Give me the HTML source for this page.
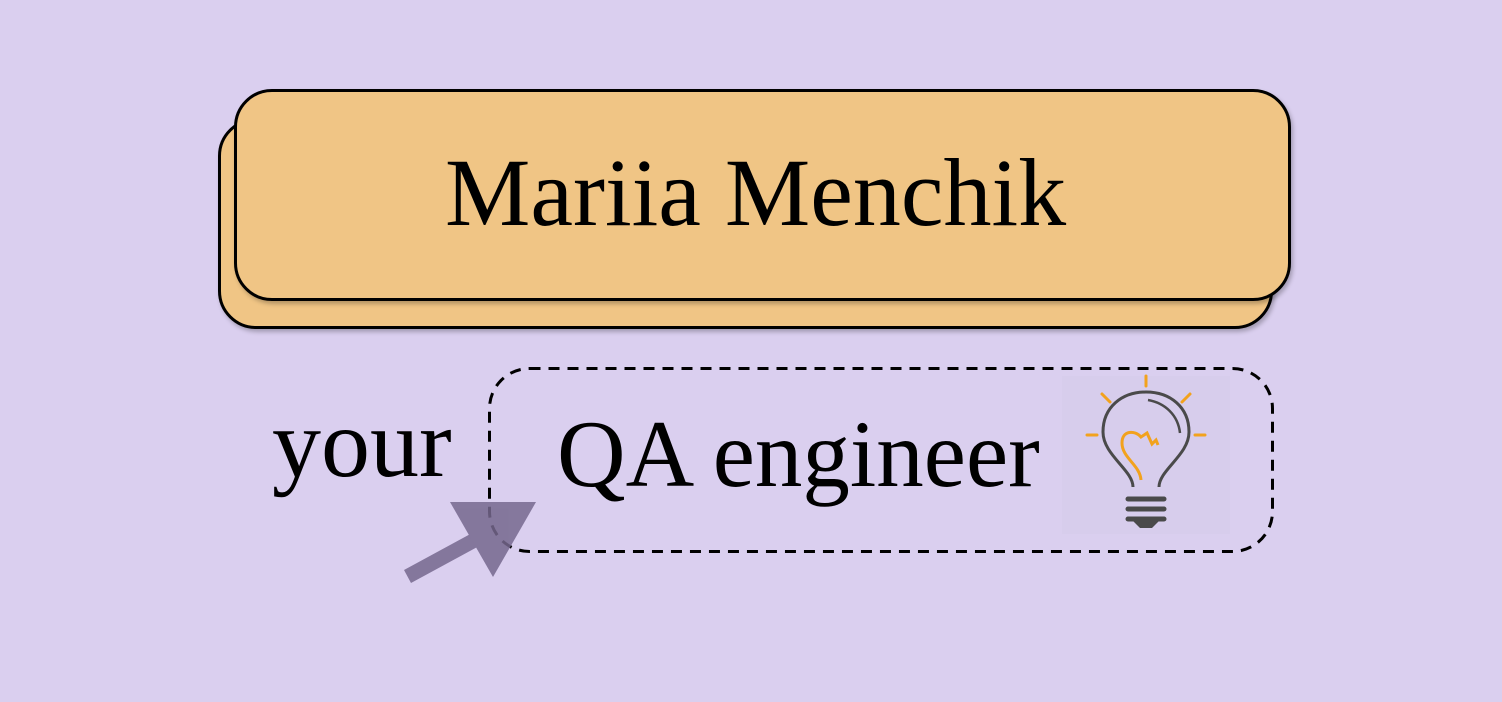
<!DOCTYPE html>
<html><head><style>
body{margin:0;width:1502px;height:702px;background:#dacfef;position:relative;overflow:hidden;font-family:"Liberation Serif",serif}
.b{position:absolute;background:#f0c585;border:3px solid #000;border-radius:38px;box-sizing:border-box;box-shadow:2px 3px 4px rgba(0,0,0,.25)}
.t{position:absolute;white-space:nowrap;color:#000;line-height:1}
</style></head><body>
<div class="b" style="left:218px;top:118px;width:1055px;height:211px"></div>
<div class="b" style="left:234px;top:89px;width:1057px;height:212px"></div>
<div class="t" style="left:445px;top:145px;font-size:96px">Mariia Menchik</div>
<svg width="1502" height="702" style="position:absolute;left:0;top:0">
<rect x="489.5" y="368.5" width="783" height="183" rx="40" fill="none" stroke="#000" stroke-width="3" stroke-dasharray="11 8"/>
<rect x="1062" y="376" width="168" height="158" fill="#d6cbea" opacity=".6"/>
<g stroke="#f2a21d" stroke-width="3" stroke-linecap="round">
<line x1="1146" y1="376" x2="1146" y2="386"/><line x1="1102" y1="394" x2="1110" y2="402"/><line x1="1190" y1="394" x2="1182" y2="402"/>
<line x1="1087" y1="435" x2="1097" y2="435"/><line x1="1195" y1="435" x2="1205" y2="435"/></g>
<path d="M1133 487 C1133 470 1103 455 1103 432 C1103 407 1122 392 1146 392 C1170 392 1189 407 1189 432 C1189 455 1159 470 1159 487" fill="none" stroke="#4a4a4a" stroke-width="3"/>
<path d="M1148 400 C1165 403 1178 415 1180 433" fill="none" stroke="#4a4a4a" stroke-width="2.5"/>
<path d="M1141 480 C1140 465 1122 458 1122 443 C1122 430 1135 430 1141 437 L1147 433 L1152 444 L1156 440 L1158 445" fill="none" stroke="#f2a21d" stroke-width="3"/>
<g stroke="#4a4a4a" stroke-width="5" stroke-linecap="round"><line x1="1128" y1="499" x2="1164" y2="499"/><line x1="1128" y1="509" x2="1164" y2="509"/><line x1="1128" y1="519" x2="1164" y2="519"/></g>
<path d="M1132 520 L1160 520 L1152 528 L1140 528Z" fill="#4a4a4a"/>
</svg>
<div class="t" style="left:272px;top:395px;font-size:98px">your</div>
<div class="t" style="left:557px;top:407px;font-size:95px">QA engineer</div>
<svg width="1502" height="702" style="position:absolute;left:0;top:0">
<g fill="#76688e" opacity=".85">
<polygon points="404,570 474,532 481,545 411,583"/>
<polygon points="450,502 536,502 493,577"/>
</g>
</svg>
</body></html>
